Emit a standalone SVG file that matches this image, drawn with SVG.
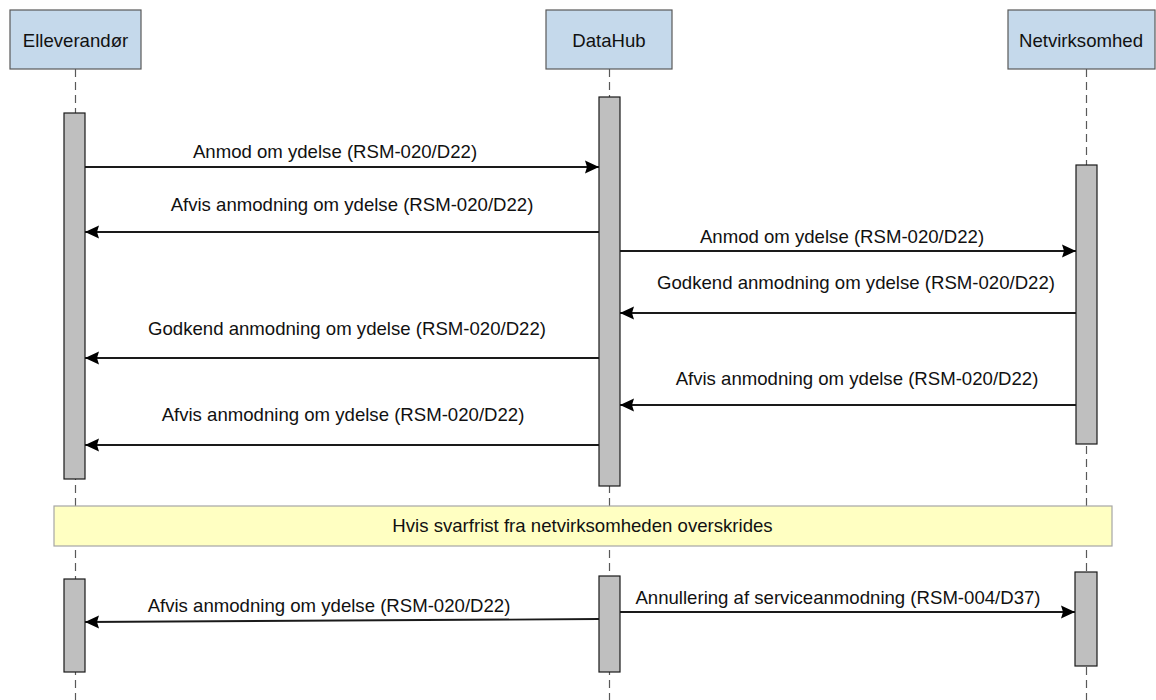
<svg xmlns="http://www.w3.org/2000/svg" width="1156" height="700" viewBox="0 0 1156 700">
<defs>
<style>
.hdr{fill:#C5D9EB;stroke:#595959;stroke-width:1.2}
.life{stroke:#595959;stroke-width:1.2;stroke-dasharray:8,5;fill:none}
.bar{fill:#BFBFBF;stroke:#1a1a1a;stroke-width:1.2}
.msg{stroke:#1a1a1a;stroke-width:1.8;fill:none;marker-end:url(#ah)}
text{font-family:"Liberation Sans",Arial,sans-serif;font-size:18.6px;fill:#111;text-anchor:middle}
.note{fill:#FFFFC2;stroke:#A6A6A6;stroke-width:1.2}
</style>
<marker id="ah" markerUnits="userSpaceOnUse" markerWidth="16" markerHeight="16" viewBox="0 0 16 16" refX="15" refY="8" orient="auto">
<path d="M1,1.5 L15,8 L1,14.5 L3,8 Z" fill="#000"/>
</marker>
</defs>
<g id="lifelines">
<line class="life" x1="75.5" y1="69" x2="75.5" y2="700"/>
<line class="life" x1="609.5" y1="69" x2="609.5" y2="700"/>
<line class="life" x1="1086.5" y1="69" x2="1086.5" y2="700"/>
</g>
<g id="elleverandor">
<rect class="hdr" x="10" y="10" width="131" height="59"/>
<text x="75.5" y="46.5">Elleverandør</text>
</g>
<g id="datahub">
<rect class="hdr" x="546" y="10" width="126" height="59"/>
<text x="609" y="46.5">DataHub</text>
</g>
<g id="netvirksomhed">
<rect class="hdr" x="1008" y="10" width="147" height="59"/>
<text x="1081" y="46.5">Netvirksomhed</text>
</g>
<g id="activations">
<rect class="bar" x="64" y="113" width="21" height="366"/>
<rect class="bar" x="599" y="97" width="21" height="389"/>
<rect class="bar" x="1076" y="165" width="21" height="279"/>
<rect class="bar" x="64" y="579" width="21" height="93"/>
<rect class="bar" x="599" y="576" width="21" height="96"/>
<rect class="bar" x="1075" y="572" width="22" height="94"/>
</g>
<g id="note">
<rect class="note" x="54" y="506" width="1058" height="40"/>
<text x="582.5" y="531.5">Hvis svarfrist fra netvirksomheden overskrides</text>
</g>
<g id="connectors">
<line class="msg" x1="85" y1="167" x2="599" y2="167"/>
<line class="msg" x1="599" y1="232" x2="85" y2="232"/>
<line class="msg" x1="620" y1="251" x2="1076" y2="251"/>
<line class="msg" x1="1076" y1="313" x2="620" y2="313"/>
<line class="msg" x1="599" y1="358" x2="85" y2="358"/>
<line class="msg" x1="1076" y1="405" x2="620" y2="405"/>
<line class="msg" x1="599" y1="445" x2="85" y2="445"/>
<line class="msg" x1="599" y1="619" x2="85" y2="622"/>
<line class="msg" x1="620" y1="612" x2="1075" y2="612"/>
</g>
<g id="labels">
<text x="335" y="157.5">Anmod om ydelse (RSM-020/D22)</text>
<text x="352" y="210.5">Afvis anmodning om ydelse (RSM-020/D22)</text>
<text x="842" y="242.5">Anmod om ydelse (RSM-020/D22)</text>
<text x="856" y="289">Godkend anmodning om ydelse (RSM-020/D22)</text>
<text x="347" y="334.5">Godkend anmodning om ydelse (RSM-020/D22)</text>
<text x="857" y="384.5">Afvis anmodning om ydelse (RSM-020/D22)</text>
<text x="343" y="420.5">Afvis anmodning om ydelse (RSM-020/D22)</text>
<text x="329" y="611.5">Afvis anmodning om ydelse (RSM-020/D22)</text>
<text x="838" y="603.5">Annullering af serviceanmodning (RSM-004/D37)</text>
</g>
</svg>
